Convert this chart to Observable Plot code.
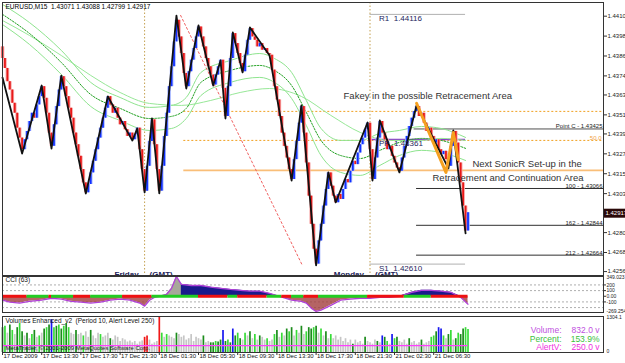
<!DOCTYPE html>
<html><head><meta charset="utf-8">
<script src="https://cdn.jsdelivr.net/npm/d3@7"></script>
<script src="https://cdn.jsdelivr.net/npm/@observablehq/plot@0.6"></script>
<style>
html,body{margin:0;padding:0;background:#fff;}
#wrap{position:relative;width:625px;height:363px;overflow:hidden;background:#fff;}
#wrap text{white-space:pre;}
</style></head><body><div id="wrap"></div>
<script>
const SMALL = '"Liberation Sans",Arial,sans-serif';
const SANS = '"Liberation Sans",Arial,sans-serif';

// ---------- header ----------
const symbolName = "EURUSD,M15";
const ohlcLast = [1.43071, 1.43088, 1.42799, 1.42917];
const lastPrice = 1.42917;

// ---------- price axis ----------
const priceTicks = [1.44105,1.43985,1.43865,1.43745,1.43630,1.43510,1.43395,1.43275,1.43155,1.43035,1.42800,1.42680,1.42565];

// ---------- M15 closes (bar 0 .. 190) ----------
const firstOpen = 1.4392;
const closes = [
 1.4385,1.4379,1.4371,1.4366,1.4358,1.4352,1.4343,1.4337,1.4330,
 1.4336,1.4341,1.4347,1.4352,1.4349,1.4357,1.4362,1.4368,
 1.4361,1.4352,1.4340,1.4332,
 1.4345,1.4356,1.4366,1.4374,
 1.4368,1.4362,1.4355,1.4349,1.4340,1.4333,1.4326,1.4318,1.4310,1.4304,
 1.4309,1.4316,1.4323,1.4330,1.4337,1.4343,1.4349,1.4355,1.4362,
 1.4357,1.4352,1.4355,1.4349,1.4345,1.4347,1.4342,1.4338,1.4340,1.4336,
 1.4339,1.4343,
 1.4330,1.4318,1.4305,
 1.4320,1.4335,1.4348,
 1.4333,1.4318,1.4305,
 1.4320,1.4338,1.4352,1.4368,1.4380,1.4395,1.4408,
 1.4398,1.4388,1.4376,1.4368,
 1.4377,1.4384,1.4391,1.4398,1.4404,
 1.4398,1.4392,1.4385,1.4380,1.4375,1.4369,
 1.4375,1.4380,1.4384,
 1.4367,1.4350,
 1.4368,1.4385,1.4400,
 1.4394,1.4388,1.4382,1.4377,
 1.4387,1.4396,1.4403,
 1.4398,1.4396,1.4392,1.4394,1.4390,1.4391,1.4388,1.4387,
 1.4378,1.4368,1.4360,1.4350,1.4340,1.4332,1.4325,1.4318,1.4312,
 1.4324,1.4335,1.4346,1.4356,
 1.4340,1.4322,1.4302,1.4285,1.4270,1.4261,
 1.4275,1.4285,1.4296,1.4306,1.4316,
 1.4308,1.4302,1.4298,
 1.4303,1.4300,1.4306,1.4312,1.4310,1.4317,1.4323,1.4321,1.4328,1.4333,1.4337,1.4342,1.4346,
 1.4330,1.4312,
 1.4325,1.4337,1.4347,
 1.4340,1.4336,1.4330,1.4332,1.4326,1.4322,1.4319,1.4317,
 1.4325,1.4332,1.4338,1.4344,1.4349,1.4353,1.4356,
 1.4350,1.4352,1.4346,1.4341,1.4343,1.4338,1.4334,1.4336,1.4330,1.4327,1.4329,1.4324,1.4320,
 1.4332,1.4341,
 1.4334,1.4322,1.4310,1.4296,1.4281,
 1.4292
];

// ---------- zigzag ----------
const zzBar = [0,8,16,20,24,34,43,53,55,58,61,64,71,75,80,86,89,91,94,98,101,109,118,122,128,133,136,149,151,154,162,169,182,184,189];
const zzPrice = [1.43735,1.43277,1.43687,1.43307,1.43747,1.43036,1.43621,1.43355,1.43428,1.43042,1.43488,1.43036,1.44109,1.43669,1.44049,1.43687,1.43838,1.43488,1.44007,1.43766,1.44037,1.43868,1.43114,1.43567,1.42602,1.43163,1.42982,1.43464,1.43114,1.43476,1.43163,1.43567,1.43187,1.43416,1.42795];
const orBar = [169,181,184,186];
const orPrice = [1.43580,1.43163,1.43404,1.43240];

// ---------- SonicR dragon + trend EMA ----------
const dragonBars = [0,11,24,36,48,60,69,75,81,93,105,111,118,124,130,138,146,154,162,171,179,189];
const dragonHigh = [1.44176,1.44067,1.43899,1.43706,1.43615,1.43555,1.43567,1.43615,1.43766,1.43838,1.43880,1.43850,1.43766,1.43597,1.43428,1.43356,1.43356,1.43398,1.43416,1.43440,1.43428,1.43374];
const dragonMid  = [1.44116,1.44001,1.43826,1.43633,1.43549,1.43488,1.43501,1.43549,1.43706,1.43778,1.43808,1.43778,1.43687,1.43525,1.43356,1.43265,1.43247,1.43296,1.43344,1.43368,1.43356,1.43308];
const dragonLow  = [1.44055,1.43935,1.43754,1.43561,1.43476,1.43416,1.43428,1.43488,1.43627,1.43706,1.43736,1.43706,1.43609,1.43446,1.43265,1.43163,1.43145,1.43205,1.43265,1.43296,1.43283,1.43235];
const trendBars = [0,11,24,36,48,60,73,85,97,109,122,134,146,158,171,179,189];
const trendEma  = [1.44079,1.43989,1.43868,1.43748,1.43645,1.43579,1.43567,1.43597,1.43645,1.43669,1.43621,1.43507,1.43404,1.43356,1.43356,1.43368,1.43356];

// ---------- levels ----------
const pivotNames = ["R1","PP","S1"];
const pivotValues = [1.44116,1.43361,1.42610];
const pivotFromBar = 150, pivotToBar = 189;
const orangeDotted = [1.43531, 1.43356];
const orangeSolid = [1.43175];
const orangeFromBar = 74;
const fib50 = 1.43356;
const pointC = 1.43425;
const fibNames = ["100","162","212"];
const fibValues = [1.43066,1.42844,1.42664];
const fibFromBar = 169;
const sessionBars = [58,150];
const sessionDays = ["Friday","Monday"];
const trendLineBar = [72.7,122.4];
const trendLinePrice = [1.44110,1.42602];

// ---------- annotations ----------
const noteText = ["Fakey in the possible Retracement Area","Next SonicR Set-up in the","Retracement and Continuation Area"];
const noteBar = [139.2,191.8,175.5];
const notePrice = [1.43627,1.43217,1.43127];

// ---------- CCI(63) ----------
const cciTitle = "CCI (63)";
const cciBars = [0,3,7,11,16,20,24,28,32,36,40,44,48,52,56,58,60,62,64,67,69,71,73,77,81,85,89,93,97,101,105,109,113,118,122,124,126,128,130,134,138,142,146,150,154,158,162,167,171,175,179,183,187,190];
const cciVals = [-70,-105,-120,-90,-70,-35,-50,-90,-105,-120,-105,-70,-50,-70,-120,-175,-70,-20,0,35,140,349,210,190,190,160,140,120,105,90,90,50,0,-70,-90,-120,-210,-269,-245,-160,-70,-50,-35,-35,-20,-20,0,70,105,105,90,70,-20,-140];
const cciLevels = [200,100,-100,-200];
const cciMid = [200,100,0,-100];
const cciMax = 349.023, cciMin = -269.254;
const bandStart = [0,10,19,20,29,36,49,61,80,92,96,108,114,118,123,129,149,164,175];
const bandEnd   = [10,19,20,29,36,49,61,80,92,96,108,114,118,123,129,149,164,175,190];
const bandState = ["dn","up","dn","up","dn","up","dn","up","dn","up","dn","up","dn","up","dn","up","dn","up","dn"];

// ---------- Volumes Enhanced ----------
const volTitle = "Volumes Enhanced_v2  (Period 10, Alert Level 250)";
const copyright = "MetaTrader, \u00a9 2001-2009 MetaQuotes Software Corp.";
const volumes = [
 900,950,700,1000,800,650,900,1050,750,
 600,700,500,650,800,550,600,700,
 850,900,1000,1190,
 900,950,1000,850,950,1050,900,700,650,800,
 650,700,600,750,550,800,600,500,700,650,550,600,700,500,450,600,550,400,500,450,380,420,350,400,300,380,420,
 550,600,450,300,350,
 400,
 1304,
 700,550,650,600,550,500,
 700,650,550,600,450,500,650,400,550,500,450,600,350,400,350,
 350,400,380,450,800,400,450,350,850,600,700,500,450,
 700,600,750,500,650,450,600,550,450,500,400,450,
 650,800,550,700,600,850,750,900,600,800,700,950,650,750,900,
 850,900,950,700,850,600,750,500,650,
 500,600,450,550,400,500,350,450,300,450,350,400,300,550,
 400,350,300,450,400,350,600,550,400,300,650,500,
 550,400,350,450,300,500,350,400,300,350,450,300,350,400,550,
 600,750,900,850,600,500,650,800,450,500,700,650,850,900,832
];
const volTypes = "dgydgydgd" + "ydygdygy" + "dgdb" + "gdgdgdgyyd" + "yygyydyyygyyydyyyyyyyyyyyyy" + "rryyy" + "y" + "r" + "gygyyy" +
 "dyyyyyyyyyydyyd" + "dgddbdgdbdgdy" + "gydygydyygyy" + "gdygydgdygydygd" + "dgdygydyg" + "yyyyyyyydyyyyd" + "yyyydybdgybg" + "dyyyydyyyydyyyg" + "gdbbgydgydgddgg";
const volMax = 1304.1;
const alertLevel = 250;
const statLabels = ["Volume:","Percent:","AlertV:"];
const statValues = ["832.0 v","153.9%","250.0 v"];

// ---------- time axis ----------
const dateBars = [0,16,32,48,64,80,96,112,128,144,160,176];
const dateLabels = ["17 Dec 2009","17 Dec 13:30","17 Dec 17:30","17 Dec 21:30","18 Dec 01:30","18 Dec 05:30","18 Dec 09:30","18 Dec 13:30","18 Dec 17:30","18 Dec 21:30","21 Dec 02:30","21 Dec 06:30"];

// ---------- build tables ----------
const xDomain = [0, 245.3];
const priceDomain = [1.425413, 1.441816];
const candles = closes.map((c,i) => ({bar:i, open: i ? closes[i-1] : firstOpen, close:c}));
const zz = zzBar.map((b,i) => ({bar:b, price:zzPrice[i]}));
const orz = orBar.map((b,i) => ({bar:b, price:orPrice[i]}));
const mk = (bars, vals) => bars.map((b,i) => ({bar:b, price:vals[i]}));
const cci = cciBars.map((b,i) => ({bar:b, v:cciVals[i]}));
const bands = bandStart.map((s,i) => ({s, e:bandEnd[i], state:bandState[i]}));
const vols = volumes.map((v,i) => ({bar:i, v, t:volTypes[i]}));
const volColor = {g:"#38dc38", d:"#1c8c1c", y:"#c6c6c6", b:"#1818f0", r:"#f01818"};
const statColor = ["#c050e0","#3cc03c","#f030e0"];
const wrap = document.getElementById("wrap");
const svgStyle = {fontFamily: SANS, background: "transparent", overflow: "visible", color: "#111"};

// ---------- main panel ----------
const main = Plot.plot({
  width: 625, height: 276, marginLeft: 2, marginRight: 22, marginTop: 2, marginBottom: 1,
  style: svgStyle,
  x: {domain: xDomain, range: [2, 603], axis: null, label: null},
  y: {domain: priceDomain, range: [275, 3], axis: null, label: null},
  marks: [
    Plot.ruleX(sessionBars, {x: d => d, stroke: "#c4a050", strokeWidth: 1, strokeDasharray: "1.5,2"}),
    Plot.ruleY(orangeDotted, {y: d => d, x1: orangeFromBar, x2: xDomain[1], stroke: "#f0a020", strokeWidth: 1, strokeDasharray: "2,2"}),
    Plot.ruleY(orangeSolid, {y: d => d, x1: orangeFromBar, x2: xDomain[1], stroke: "#f9be78", strokeWidth: 1.6}),
    Plot.ruleY([pointC], {y: d => d, x1: fibFromBar - 1, x2: xDomain[1], stroke: "#505050", strokeWidth: 1}),
    Plot.ruleY(fibValues, {y: d => d, x1: fibFromBar, x2: xDomain[1], stroke: "#303030", strokeWidth: 1}),
    Plot.ruleY([pivotValues[0], pivotValues[2]], {y: d => d, x1: pivotFromBar, x2: pivotToBar, stroke: "#b0b0b0", strokeWidth: 1}),
    Plot.ruleY([pivotValues[1]], {y: d => d, x1: pivotFromBar, x2: pivotToBar, stroke: "#8a40c8", strokeWidth: 1.5}),
    Plot.line(mk(trendBars, trendEma), {x: "bar", y: "price", stroke: "#98e898", strokeWidth: 1, curve: "monotone-x"}),
    Plot.line(mk(dragonBars, dragonHigh), {x: "bar", y: "price", stroke: "#8ee48e", strokeWidth: 1, curve: "monotone-x"}),
    Plot.line(mk(dragonBars, dragonLow), {x: "bar", y: "price", stroke: "#8ee48e", strokeWidth: 1, curve: "monotone-x"}),
    Plot.line(mk(dragonBars, dragonMid), {x: "bar", y: "price", stroke: "#1ea01e", strokeWidth: 1, strokeDasharray: "1.5,1.5", curve: "monotone-x"}),
    Plot.line(mk(trendLineBar, trendLinePrice), {x: "bar", y: "price", stroke: "#f06060", strokeWidth: 1, strokeDasharray: "2,2.5"}),
    Plot.ruleX(candles, {x: "bar", y1: "open", y2: "close", stroke: d => d.close >= d.open ? "#a8b8ff" : "#f6a8a8", strokeWidth: 3.6}),
    Plot.ruleX(candles, {x: "bar", y1: "open", y2: "close", stroke: d => d.close >= d.open ? "#1030ff" : "#e81818", strokeWidth: 1.8}),
    Plot.line(zz, {x: "bar", y: "price", stroke: "#111", strokeWidth: 1.8}),
    Plot.line(orz, {x: "bar", y: "price", stroke: "#f5a020", strokeWidth: 3}),
    Plot.text([symbolName + "  " + ohlcLast.map(v => v.toFixed(5)).join(" ")], {text: d => d, frameAnchor: "top-left", dx: 3, dy: 2, lineAnchor: "top", textAnchor: "start", fontSize: 6.5, fontFamily: SMALL, fill: "#000"}),
    Plot.text(pivotNames, {x: () => pivotFromBar, y: (d,i) => pivotValues[i], text: (d,i) => d + "  " + pivotValues[i].toFixed(5), textAnchor: "start", lineAnchor: "top", dx: 9, dy: 1, fontSize: 8, fill: "#1c1c5c"}),
    Plot.text(noteText, {x: (d,i) => noteBar[i], y: (d,i) => notePrice[i], text: d => d, textAnchor: "start", fontSize: 9.5, fill: "#333"}),
    Plot.text([pointC], {y: d => d, text: d => "Point C - " + d.toFixed(5), frameAnchor: "right", textAnchor: "end", lineAnchor: "bottom", dx: -1, dy: -0.5, fontSize: 6, fontFamily: SMALL, fill: "#222"}),
    Plot.text([fib50], {y: d => d, text: () => "50.0", frameAnchor: "right", textAnchor: "end", lineAnchor: "bottom", dx: -2, dy: -0.5, fontSize: 6, fontFamily: SMALL, fill: "#f0a040"}),
    Plot.text(fibNames, {y: (d,i) => fibValues[i], text: (d,i) => d + " - " + fibValues[i].toFixed(5), frameAnchor: "right", textAnchor: "end", lineAnchor: "bottom", dx: -1, dy: -0.5, fontSize: 6, fontFamily: SMALL, fill: "#222"}),
    Plot.text(sessionBars, {x: d => d, text: (d,i) => sessionDays[i], frameAnchor: "bottom", textAnchor: "end", lineAnchor: "bottom", dx: -6, dy: 1.5, fontSize: 8, fontWeight: "bold", fill: "#22225a", clip: true}),
    Plot.text(sessionBars, {x: d => d, text: () => "(GMT)", frameAnchor: "bottom", textAnchor: "start", lineAnchor: "bottom", dx: 5, dy: 1.5, fontSize: 8, fontWeight: "bold", fill: "#22225a", clip: true}),
    Plot.axisY(priceTicks, {anchor: "right", label: null, tickSize: 3, tickPadding: 1, fontSize: 6, fontFamily: SMALL, tickFormat: d => d.toFixed(5), stroke: "#333", fill: "#222"}),
    Plot.ruleY([lastPrice], {y: d => d, x1: xDomain[1], x2: xDomain[1] + 9, stroke: "#2a0808", strokeWidth: 9}),
    Plot.text([lastPrice], {y: d => d, text: d => d.toFixed(5), frameAnchor: "right", textAnchor: "start", dx: 2, fontSize: 6, fontFamily: SMALL, fill: "#fff"}),
    Plot.frame({stroke: "#333"})
  ]
});

// ---------- CCI panel ----------
const cciPlot = Plot.plot({
  width: 625, height: 39, marginLeft: 2, marginRight: 22, marginTop: 1, marginBottom: 2,
  style: svgStyle,
  x: {domain: xDomain, range: [2, 603], axis: null, label: null},
  y: {domain: [cciMin, cciMax], range: [36, 1], axis: null, label: null},
  marks: [
    Plot.ruleY(cciLevels, {y: d => d, stroke: "#999", strokeWidth: 0.8, strokeDasharray: "2,2"}),
    Plot.areaY(cci, {x: "bar", y1: () => 0, y2: d => Math.min(0, d.v), fill: "#a03838", fillOpacity: 0.78}),
    Plot.areaY(cci.filter(d => d.bar <= 77), {x: "bar", y1: () => 0, y2: d => Math.max(0, d.v), fill: "#a8a89a"}),
    Plot.areaY(cci.filter(d => d.bar >= 73), {x: "bar", y1: () => 0, y2: d => Math.max(0, d.v), fill: "#1a1a8c"}),
    Plot.line(cci, {x: "bar", y: "v", stroke: "#b040d8", strokeWidth: 1.3}),
    Plot.ruleY(bands, {y: () => 0, x1: "s", x2: "e", stroke: d => d.state === "up" ? "#22cc22" : "#ee1111", strokeWidth: 3}),
    Plot.text([cciTitle], {text: d => d, frameAnchor: "top-left", dx: 3, dy: 1, lineAnchor: "top", fontSize: 6.5, fontFamily: SMALL, fill: "#111"}),
    Plot.axisY(cciMid, {anchor: "right", label: null, tickSize: 2, tickPadding: 1, fontSize: 5, fontFamily: SMALL, tickFormat: d => d === 0 ? "0.00" : String(d), stroke: "#333", fill: "#222"}),
    Plot.text([cciMax], {y: d => d, text: d => String(d), frameAnchor: "right", textAnchor: "start", lineAnchor: "top", dx: 3, dy: -1, fontSize: 5, fontFamily: SMALL, fill: "#222"}),
    Plot.text([cciMin], {y: d => d, text: d => String(d), frameAnchor: "right", textAnchor: "start", lineAnchor: "bottom", dx: 3, dy: 1, fontSize: 5, fontFamily: SMALL, fill: "#222"}),
    Plot.frame({stroke: "#333"})
  ]
});

// ---------- Volume panel ----------
const volPlot = Plot.plot({
  width: 625, height: 50, marginLeft: 2, marginRight: 22, marginTop: 3, marginBottom: 11,
  style: svgStyle,
  x: {domain: xDomain, range: [2, 603], axis: null, label: null},
  y: {domain: [0, volMax], axis: null, label: null},
  marks: [
    Plot.ruleX(vols, {x: "bar", y1: () => 0, y2: "v", stroke: d => volColor[d.t], strokeWidth: 1.7}),
    Plot.ruleY([alertLevel], {y: d => d, x1: 0, x2: closes.length - 1, stroke: "#ff40ff", strokeWidth: 1.3}),
    Plot.text([volTitle], {text: d => d, frameAnchor: "top-left", dx: 3, dy: 1.5, lineAnchor: "top", fontSize: 6.5, fontFamily: SMALL, fill: "#111"}),
    Plot.text([copyright], {text: d => d, frameAnchor: "bottom-left", dx: 3, dy: -3, lineAnchor: "bottom", fontSize: 6, fontFamily: SMALL, fill: "#222"}),
    Plot.text(statLabels, {text: d => d, frameAnchor: "top-right", textAnchor: "end", dx: -42, dy: 14, fill: (d,i) => statColor[i], fontSize: 8.5, lineAnchor: "middle"}),
    Plot.text(statValues, {text: d => d, frameAnchor: "top-right", textAnchor: "end", dx: -4, dy: 14, fill: (d,i) => statColor[i], fontSize: 8.5, lineAnchor: "middle"}),
    Plot.text(dateLabels, {x: (d,i) => dateBars[i], text: d => d, frameAnchor: "bottom", textAnchor: "start", lineAnchor: "top", dx: 1, dy: 1.5, fontSize: 6, fontFamily: SMALL, fill: "#111"}),
    Plot.axisX(dateBars, {anchor: "bottom", label: null, tickSize: 3, tickFormat: () => "", stroke: "#333"}),
    Plot.text([volMax], {y: d => d, text: d => d.toFixed(1), frameAnchor: "right", textAnchor: "start", lineAnchor: "top", dx: 3, dy: -1, fontSize: 5, fontFamily: SMALL, fill: "#222"}),
    Plot.text([0], {y: d => d, text: () => "0", frameAnchor: "right", textAnchor: "start", lineAnchor: "bottom", dx: 3, dy: 0, fontSize: 5, fontFamily: SMALL, fill: "#222"}),
    Plot.frame({stroke: "#333"})
  ]
});

[[main, 0], [cciPlot, 275], [volPlot, 313]].forEach(([el, top]) => {
  el.style.position = "absolute";
  el.style.left = "0px";
  el.style.top = top + "px";
  wrap.appendChild(el);
});

// stack the three stat rows (Volume / Percent / AlertV)
volPlot.querySelectorAll("text").forEach(t => {
  const a = statLabels.indexOf(t.textContent), b = statValues.indexOf(t.textContent);
  const i = a >= 0 ? a : b;
  if (i > 0) t.setAttribute("transform", (t.getAttribute("transform") || "") + ` translate(0,${i * 8.5})`);
});
</script></body></html>
